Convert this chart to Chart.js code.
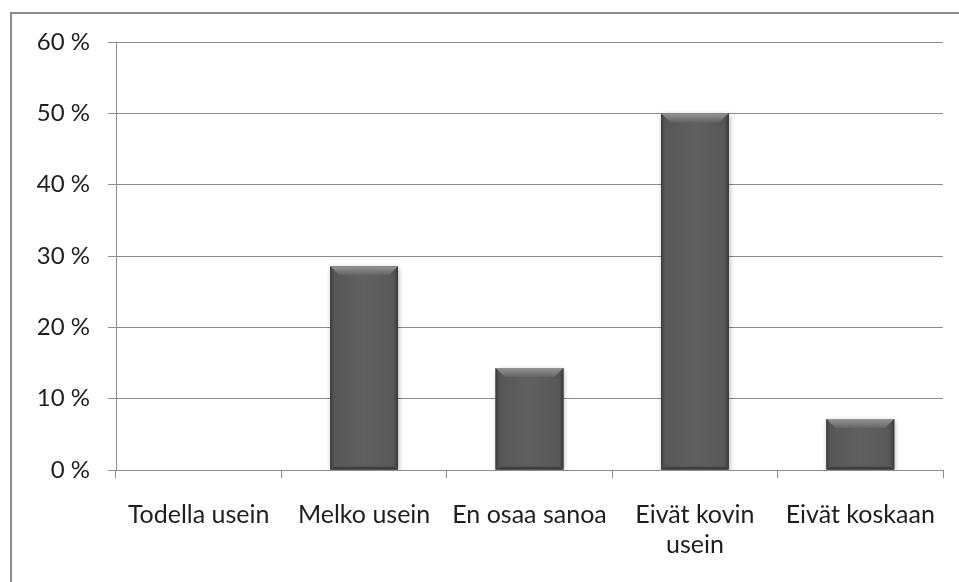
<!DOCTYPE html>
<html>
<head>
<meta charset="utf-8">
<script src="https://cdn.jsdelivr.net/npm/chart.js@4"></script>
<style>
  html, body { margin: 0; padding: 0; background: #fff; }
  #wrap { position: relative; width: 959px; height: 582px; overflow: hidden; }
  #frame { position: absolute; left: 10px; top: 12px; width: 1000px; height: 700px;
           border-left: 2px solid #8c8c8c; border-top: 2px solid #8c8c8c; pointer-events: none; }
  canvas { position: absolute; left: 0; top: 0; }
</style>
</head>
<body>
<div id="wrap">
  <canvas id="c" width="959" height="582"></canvas>
  <div id="frame"></div>
</div>
<script>
// Answer categories (the long one wraps onto two lines)
const categories = ['Todella usein', 'Melko usein', 'En osaa sanoa', ['Eivät kovin', 'usein'], 'Eivät koskaan'];
// Share of respondents, percent
const shares = [0, 28.57, 14.29, 50, 7.14];
// Y axis tick values, percent
const yTicks = [0, 10, 20, 30, 40, 50, 60];

const FONT = 'Lato, "Open Sans", sans-serif';

// Draws a soft shadow behind each bar and a bevelled face on top of it
const bevelBars = {
  id: 'bevelBars',
  beforeDatasetDraw(chart) {
    const ctx = chart.ctx;
    ctx.save();
    ctx.shadowColor = 'rgba(0,0,0,0.35)';
    ctx.shadowBlur = 5;
    ctx.shadowOffsetX = 1;
    ctx.shadowOffsetY = 2;
  },
  afterDatasetDraw(chart, args) {
    const ctx = chart.ctx;
    ctx.restore();
    const meta = args.meta;
    meta.data.forEach(bar => {
      const p = bar.getProps(['x', 'y', 'base', 'width'], true);
      const h = p.base - p.y;
      if (h < 1) return;
      const l = p.x - p.width / 2, r = p.x + p.width / 2, t = p.y, b = p.base;
      const bv = Math.min(9, h / 2);
      ctx.save();
      // face: subtle horizontal shading
      let g = ctx.createLinearGradient(l, 0, r, 0);
      g.addColorStop(0, '#565656');
      g.addColorStop(0.5, '#606060');
      g.addColorStop(1, '#575757');
      ctx.fillStyle = g;
      ctx.fillRect(l, t, r - l, b - t);
      // top bevel
      g = ctx.createLinearGradient(0, t, 0, t + bv);
      g.addColorStop(0, '#959595');
      g.addColorStop(1, '#646464');
      ctx.fillStyle = g;
      ctx.beginPath();
      ctx.moveTo(l, t); ctx.lineTo(r, t); ctx.lineTo(r - bv, t + bv); ctx.lineTo(l + bv, t + bv); ctx.closePath();
      ctx.fill();
      // left bevel
      g = ctx.createLinearGradient(l, 0, l + 4, 0);
      g.addColorStop(0, '#3c3c3c');
      g.addColorStop(1, '#575757');
      ctx.fillStyle = g;
      ctx.beginPath();
      ctx.moveTo(l, t); ctx.lineTo(l + bv, t + bv); ctx.lineTo(l + 4, t + bv + 2);
      ctx.lineTo(l + 4, b - 3); ctx.lineTo(l, b); ctx.closePath();
      ctx.fill();
      // right bevel
      g = ctx.createLinearGradient(r - 4, 0, r, 0);
      g.addColorStop(0, '#555555');
      g.addColorStop(1, '#383838');
      ctx.fillStyle = g;
      ctx.beginPath();
      ctx.moveTo(r, t); ctx.lineTo(r - bv, t + bv); ctx.lineTo(r - 4, t + bv + 2);
      ctx.lineTo(r - 4, b - 3); ctx.lineTo(r, b); ctx.closePath();
      ctx.fill();
      // bottom edge
      g = ctx.createLinearGradient(0, b - 4, 0, b);
      g.addColorStop(0, '#525252');
      g.addColorStop(1, '#343434');
      ctx.fillStyle = g;
      ctx.beginPath();
      ctx.moveTo(l, b); ctx.lineTo(r, b); ctx.lineTo(r - 4, b - 3); ctx.lineTo(l + 4, b - 3); ctx.closePath();
      ctx.fill();
      ctx.restore();
    });
  }
};

new Chart(document.getElementById('c'), {
  type: 'bar',
  data: {
    labels: categories,
    datasets: [{
      data: shares,
      backgroundColor: '#5b5b5b',
      borderWidth: 0,
      barPercentage: 0.41,
      categoryPercentage: 1
    }]
  },
  plugins: [bevelBars],
  options: {
    responsive: false,
    animation: false,
    events: [],
    layout: { padding: { top: 42, right: 16, left: 0, bottom: 0 } },
    plugins: { legend: { display: false }, tooltip: { enabled: false } },
    scales: {
      x: {
        offset: true,
        grid: { offset: true, drawOnChartArea: false, drawTicks: true, tickLength: 8, color: '#8c8c8c', lineWidth: 1 },
        border: { color: '#8c8c8c', width: 1 },
        ticks: { color: '#1e1e1e', font: { family: FONT, size: 25, lineHeight: 1.2 }, padding: 22, maxRotation: 0, autoSkip: false },
        afterFit(s) { s.height = 582 - 470; }
      },
      y: {
        min: 0,
        max: 60,
        afterBuildTicks(s) { s.ticks = yTicks.map(v => ({ value: v })); },
        grid: { drawTicks: true, tickLength: 8, color: '#8c8c8c', lineWidth: 1 },
        border: { color: '#8c8c8c', width: 1 },
        ticks: { color: '#1e1e1e', font: { family: FONT, size: 24 }, padding: 18,
                 callback: v => v + ' %' },
        afterFit(s) { s.width = 116; }
      }
    }
  }
});
</script>
</body>
</html>
